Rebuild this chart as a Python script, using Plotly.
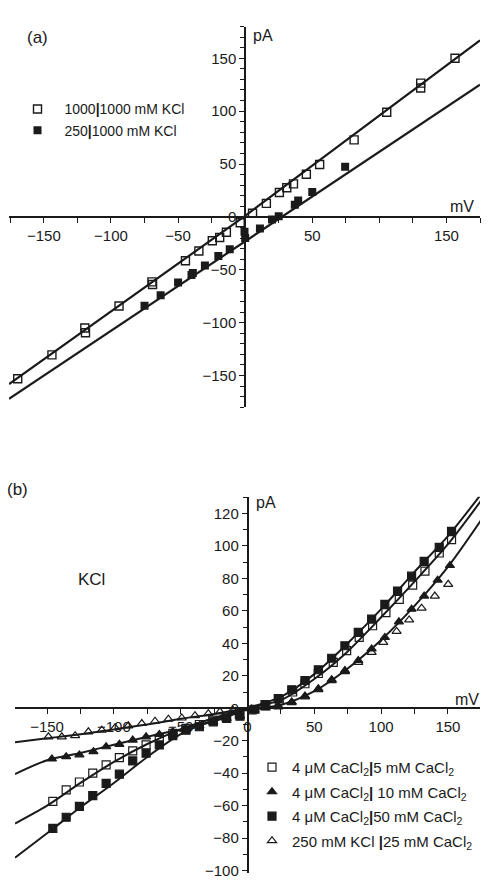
import plotly.graph_objects as go

W, H = 491, 893

# ---------------- Panel (a) data ----------------
a_open_x = [-169.5, -144, -119.5, -119, -94, -69.5, -69, -44.5, -34.5, -24.5, -19, -14, -3.7,
            5.5, 15.8, 25.5, 31, 36, 45.6, 55.5, 81.2, 105.5, 130.8, 130.8, 156.4]
a_open_y = [-153, -130.5, -105, -109.5, -84.3, -61.5, -64, -41.5, -32.3, -22.5, -19.5, -14.5, -5.5,
            3.4, 12.8, 23, 27.6, 31.2, 40.3, 49.6, 72.8, 99, 121.8, 126.5, 150]
a_fill_x = [-75, -63, -50, -40, -39, -30, -20, -11.5, -0.5, 0, 11, 20, 25, 37, 39.5, 50, 74.5]
a_fill_y = [-84, -74, -62, -55, -53, -46, -37, -30.5, -14, -20, -11, -2.5, 0.5, 11.5, 15.5, 23.5, 47.5]
a_fit_open_x = [-176, 0, 175]
a_fit_open_y = [-158, 1, 167]
a_fit_fill_x = [-176, 175]
a_fit_fill_y = [-172, 125]

a_xtick_vals = [-150, -100, -50, 50, 150]
a_xtick_text = ["\u2212150", "\u2212100", "\u221250", "50", "150"]
a_ytick_vals = [-150, -100, -50, 0, 50, 100, 150]
a_ytick_text = ["\u2212150", "\u2212100", "\u221250", "0", "50", "100", "150"]

# ---------------- Panel (b) data ----------------
b_osq_x = [-145.7, -135.7, -125.8, -115.8, -105.8, -95.9, -85.9, -75.9, -66, -55.9, -46, -36, -26, -16.1, -6.1,
           3.5, 13.8, 23.8, 33.8, 43, 53, 64.2, 74.2, 83.6, 93.6, 103.6, 113.6, 123.6, 132.8, 143.5, 152.7]
b_osq_y = [-57.3, -50.2, -45.4, -39.9, -34.9, -30.4, -26.3, -22.6, -18.5, -15.5, -12.4, -10, -7.3, -5.3, -3.9,
           -1, 1.4, 4.9, 10, 15.1, 21.4, 28.3, 35.5, 43.6, 50.8, 58.9, 67.1, 75.8, 84.4, 95.6, 103.8]

b_ftri_x = [-146.4, -135.7, -125.8, -115.3, -105.8, -95.9, -85.9, -75.9, -66, -55.9, -46.7, -36, -25.6, -15.6, -5.6,
            3.5, 13, 23, 33.1, 43, 53, 63, 72.9, 82.9, 92.9, 102.8, 113.3, 122.8, 132.2, 142.3, 151.5]
b_ftri_y = [-31.2, -29.8, -28.7, -26.7, -23.7, -22.2, -19.6, -17.6, -16.1, -14.5, -12.4, -10.8, -8.4, -6.3, -4.9,
            -1.5, 0.3, 0.8, 3.9, 7.5, 12, 17.6, 23.2, 29.4, 36.5, 43.6, 53.2, 61, 69.1, 78.9, 87.9]

b_fsq_x = [-145.7, -135.7, -125.8, -115.8, -105.8, -95.9, -85.9, -75.9, -66, -55.9, -46, -36, -25.6, -15.6, -5.6,
           5.6, 13.1, 23, 33.1, 43, 53, 63, 72.9, 82.9, 92.9, 102.8, 112.3, 122.8, 132.2, 143.5, 152.7]
b_fsq_y = [-74, -67.1, -60.4, -53.8, -46.3, -40.6, -32.4, -27.7, -22.6, -16.9, -13.5, -11.4, -8.4, -6.3, -4.9,
           -0.6, 2.3, 5.9, 11.4, 17.1, 23.7, 30.8, 38.5, 46.7, 54.9, 64, 72.2, 81.3, 90.5, 99.1, 108.9]

b_otri_x = [-149, -139, -129, -119.1, -109, -99.1, -89.2, -79.1, -69.2, -59.2, -49.2, -39.3, -29.3, -20.6, -11,
            3, 13, 23, 33, 43, 53, 63, 72.9, 82.9, 92.9, 101.6, 111.6, 121, 130.3, 140.2, 150.2]
b_otri_y = [-17.6, -17.6, -16.9, -14.5, -13.5, -12, -10.8, -9.4, -8, -6.7, -6, -4.6, -3.3, -2.2, -1.2,
            -0.5, 0.5, 1.5, 3.5, 7, 11.5, 17, 22.6, 28.3, 34.4, 40.6, 47.3, 54.4, 61.6, 69.1, 76.3]

b_curve_x = [-174, -150, -125, -100, -75, -50, -25, 0, 25, 50, 75, 100, 125, 150, 175]
b_curve_fsq_y = [-92, -77, -61, -46, -30, -16, -7, 0, 7, 21, 40, 61, 84, 106, 132]
b_curve_osq_y = [-71, -60, -46, -33, -22, -13, -6, 0, 5, 18, 35, 56, 78, 101, 128]
b_curve_ftri_y = [-40.5, -32, -27.5, -22.5, -17.5, -13, -8, -1, 2, 10.5, 24.5, 42, 63, 87, 116]
b_curve_otri_x = [-174, -150, -125, -100, -75, -50, -25, 0]
b_curve_otri_y = [-21, -18.5, -16, -13, -10, -6.5, -3.5, 0]

b_xtick_vals = [-150, -100, -50, 0, 50, 100, 150]
b_xtick_text = ["\u2212150", "\u2212100", "\u221250", "0", "50", "100", "150"]
b_ytick_vals = [-100, -80, -60, -40, -20, 0, 20, 40, 60, 80, 100, 120]
b_ytick_text = ["\u2212100", "\u221280", "\u221260", "\u221240", "\u221220", "0", "20", "40", "60", "80", "100", "120"]

names_a = ["1000<b>|</b>1000 mM KCl", "250<b>|</b>1000 mM KCl"]
names_b = ["4 \u03bcM CaCl<sub>2</sub><b>|</b>5 mM CaCl<sub>2</sub>",
           "4 \u03bcM CaCl<sub>2</sub><b>|</b> 10 mM CaCl<sub>2</sub>",
           "4 \u03bcM CaCl<sub>2</sub><b>|</b>50 mM CaCl<sub>2</sub>",
           "250 mM KCl <b>|</b>25 mM CaCl<sub>2</sub>"]

INK = "#1a1a1a"
FONT = "Liberation Sans, Arial, sans-serif"

fig = go.Figure()

# ---- panel (a) lines ----
for lx, ly in [(a_fit_open_x, a_fit_open_y), (a_fit_fill_x, a_fit_fill_y)]:
    fig.add_trace(go.Scatter(x=lx, y=ly, mode="lines", line=dict(color=INK, width=2.2),
                             showlegend=False, hoverinfo="skip", xaxis="x", yaxis="y"))
fig.add_trace(go.Scatter(x=a_open_x, y=a_open_y, mode="markers", name=names_a[0],
                         marker=dict(symbol="square-open", size=8, color=INK, line=dict(width=1.4, color=INK)),
                         xaxis="x", yaxis="y", legend="legend"))
fig.add_trace(go.Scatter(x=a_fill_x, y=a_fill_y, mode="markers", name=names_a[1],
                         marker=dict(symbol="square", size=8, color=INK),
                         xaxis="x", yaxis="y", legend="legend"))

# ---- panel (b) curves ----
for cx, cy in [(b_curve_x, b_curve_fsq_y), (b_curve_x, b_curve_osq_y),
               (b_curve_x, b_curve_ftri_y), (b_curve_otri_x, b_curve_otri_y)]:
    fig.add_trace(go.Scatter(x=cx, y=cy, mode="lines", line=dict(color=INK, width=2, shape="spline", smoothing=0.8),
                             showlegend=False, hoverinfo="skip", xaxis="x2", yaxis="y2"))

b_series = [
    (b_osq_x, b_osq_y, "square-open", names_b[0]),
    (b_ftri_x, b_ftri_y, "triangle-up", names_b[1]),
    (b_fsq_x, b_fsq_y, "square", names_b[2]),
    (b_otri_x, b_otri_y, "triangle-up-open", names_b[3]),
]
for i, (sx, sy, sym, nm) in enumerate(b_series):
    fig.add_trace(go.Scatter(x=sx, y=sy, mode="markers", name=nm,
                             marker=dict(symbol=sym, size=8, color=INK, line=dict(width=1.2, color=INK)),
                             xaxis="x2", yaxis="y2", legend="legend2", legendgroup="b%d" % i))


def px_x(p):
    return p / W


def px_y(p):
    return 1 - p / H


axis_common = dict(showgrid=False, zeroline=False, showline=True, linecolor=INK, linewidth=1.5,
                   ticks="outside", ticklen=5, tickwidth=1.3, tickcolor=INK,
                   tickfont=dict(family=FONT, size=15, color=INK), anchor="free", tickmode="array",
                   fixedrange=True)

fig.update_layout(
    width=W, height=H, margin=dict(l=0, r=0, t=0, b=0),
    paper_bgcolor="white", plot_bgcolor="rgba(0,0,0,0)",
    font=dict(family=FONT, color=INK),
    xaxis=dict(axis_common, domain=[px_x(9), px_x(480)], range=[-176, 175],
               tickvals=a_xtick_vals, ticktext=a_xtick_text, position=px_y(218.3), side="bottom",
               minor=dict(tickmode="linear", tick0=0, dtick=25, ticks="outside", ticklen=5,
                          tickwidth=1.2, tickcolor=INK)),
    yaxis=dict(axis_common, domain=[px_y(410), px_y(26.7)], range=[-180, 180],
               tickvals=a_ytick_vals, ticktext=a_ytick_text, position=px_x(245), side="left",
               minor=dict(tickmode="linear", tick0=0, dtick=10, ticks="outside", ticklen=4,
                          tickwidth=1.1, tickcolor=INK)),
    xaxis2=dict(axis_common, domain=[px_x(15), px_x(480)], range=[-174, 174],
                tickvals=b_xtick_vals, ticktext=b_xtick_text, position=px_y(713), side="bottom",
                minor=dict(tickmode="linear", tick0=0, dtick=25, ticks="outside", ticklen=5,
                           tickwidth=1.2, tickcolor=INK)),
    yaxis2=dict(axis_common, domain=[px_y(879), px_y(500)], range=[-101.5, 130.3],
                tickvals=b_ytick_vals, ticktext=b_ytick_text, position=px_x(247.5), side="left",
                minor=dict(tickmode="linear", tick0=0, dtick=10, ticks="outside", ticklen=4,
                           tickwidth=1.1, tickcolor=INK)),
    legend=dict(x=px_x(10.5), y=px_y(94), xanchor="left", yanchor="top", bgcolor="rgba(0,0,0,0)",
                font=dict(family=FONT, size=14, color=INK), itemwidth=44, itemclick=False),
    legend2=dict(x=px_x(252), y=px_y(756), xanchor="left", yanchor="top", bgcolor="rgba(0,0,0,0)",
                 font=dict(family=FONT, size=15, color=INK), tracegroupgap=2, itemclick=False),
    showlegend=True,
)

annots = [
    ("(a)", 37, 38, 17, "center"),
    ("pA", 251, 36, 16, "left"),
    ("mV", 462, 208, 16, "center"),
    ("(b)", 17, 493, 17, "center"),
    ("KCl", 91, 583, 17, "center"),
    ("pA", 254, 506, 16, "left"),
    ("mV", 467, 704, 16, "center"),
]
for txt, x, y, size, xa in annots:
    fig.add_annotation(text=txt, x=px_x(x), y=px_y(y), xref="paper", yref="paper",
                       xanchor=xa, yanchor="middle", showarrow=False,
                       font=dict(family=FONT, size=size, color=INK))

fig.write_html("out.html")
